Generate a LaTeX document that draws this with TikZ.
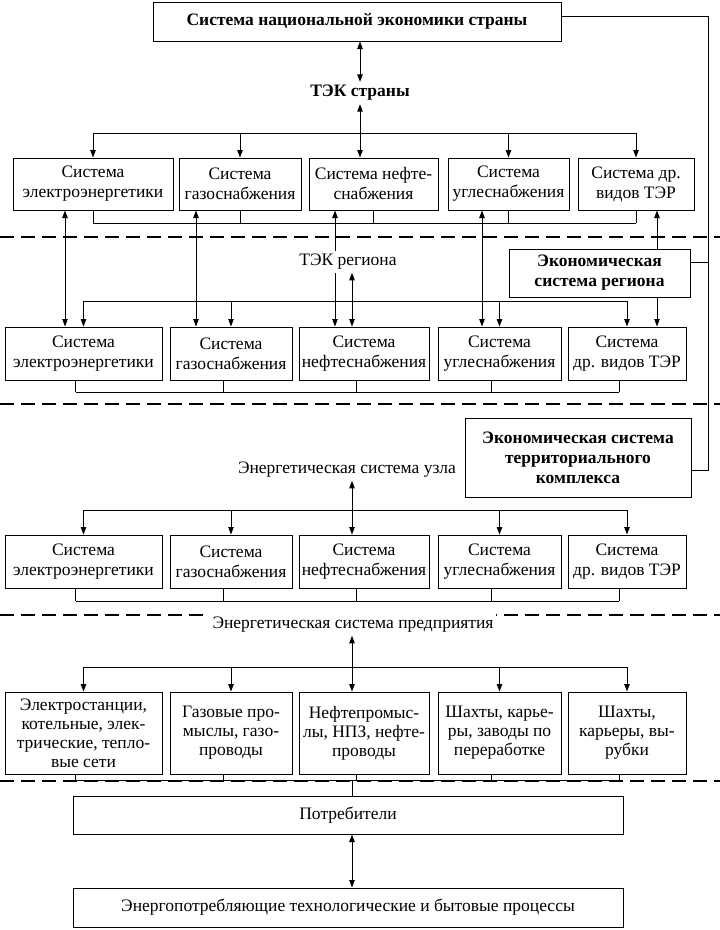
\documentclass[tikz,border=0pt]{standalone}
\usepackage{fontspec}
\setmainfont{Liberation Serif}
\usetikzlibrary{positioning,arrows.meta}

\tikzset{
  cell/.style={draw, line width=1pt, align=center, inner sep=1pt, font=\fontsize{17.5}{20}\selectfont},
  cellfour/.style={cell, font=\fontsize{17.5}{19}\selectfont},
  bold/.style={font=\fontsize{17.5}{20}\selectfont\bfseries},
  lbl/.style={fill=white, inner sep=3pt, font=\fontsize{17.5}{20}\selectfont},
  zone/.style={line width=2pt, dash pattern=on 14pt off 7pt},
  link/.style={line width=0.9pt},
  >={Triangle[length=7.5pt,width=5.5pt]}
}

\begin{document}
\begin{tikzpicture}[x=1pt,y=-1pt]
  \useasboundingbox (0,0) rectangle (720,930);

  % boxes
  \node[cell, bold, minimum width=408, minimum height=39] (nat) at (357,21.5) {Система национальной экономики страны};
  \node[bold] (tek1) at (360,93) {ТЭК страны};

  \foreach \n/\l/\r/\lab in {a/13/173/{Система\\электроэнергетики}, b/179/301/{Система\\газоснабжения},
      c/309/438/{Система нефте-\\снабжения}, d/448/569/{Система\\углеснабжения}, e/578/694/{Система др.\\видов ТЭР}}
    \node[cell, minimum width=\r-\l, minimum height=52] (r1\n) at ({(\l+\r)/2},184) {\lab};

  \foreach \row/\yc in {2/353.5, 3/561.5}
    \foreach \n/\l/\r/\lab in {a/5/162/{Система\\электроэнергетики}, b/170/292/{Система\\газоснабжения},
        c/299/429/{Система\\нефтеснабжения}, d/438/561/{Система\\углеснабжения}, e/568/686/{Система\\др. видов ТЭР}}
      \node[cell, minimum width=\r-\l, minimum height=53] (r\row\n) at ({(\l+\r)/2},\yc) {\lab};

  \foreach \n/\l/\r/\lab in {a/5/162/{Электростанции,\\котельные, элек-\\трические, тепло-\\вые сети},
      b/170/292/{Газовые про-\\мыслы, газо-\\проводы}, c/299/429/{Нефтепромыс-\\лы, НПЗ, нефте-\\проводы},
      d/438/561/{Шахты, карье-\\ры, заводы по\\переработке}, e/568/686/{Шахты,\\карьеры, вы-\\рубки}}
    \node[cellfour, minimum width=\r-\l, minimum height=82] (r4\n) at ({(\l+\r)/2},733) {\lab};

  \node[cell, bold, minimum width=181, minimum height=48] (eco2) at (599.5,273) {Экономическая\\система региона};
  \node[cell, bold, minimum width=226, minimum height=79] (eco3) at (578,457.5) {Экономическая система\\территориального\\комплекса};
  \node[cell, minimum width=550, minimum height=38] (cons) at (348,815) {Потребители};
  \node[cell, minimum width=550, minimum height=39] (proc) at (348,907.5) {Энергопотребляющие технологические и бытовые процессы};

  \coordinate (spine) at (352,0);
  \coordinate (rail) at (708,0);

  % zones
  \foreach \y in {237,404,615,781}
    \draw[zone] (0,\y) -- (720,\y);

  % country level
  \draw[link,<->] (nat.south -| tek1) -- (tek1.north);
  \draw[link,<->] (tek1.south) -- (tek1 |- r1c.north);
  \coordinate (bus1) at (0,133);
  \draw[link] (r1a |- bus1) -- (r1e |- bus1);
  \foreach \n in {a,b,d,e}
    \draw[link,->] (r1\n |- bus1) -- (r1\n.north);
  \coordinate (low1) at (0,223);
  \draw[link] (r1a |- low1) -- (r1e |- low1);
  \foreach \n in {a,...,e}
    \draw[link] (r1\n.south) -- (r1\n |- low1);

  % region level
  \foreach \n/\x in {a/65, b/196, c/335, d/482}
    \draw[link,<->] (\x,0 |- r1\n.south) -- (\x,0 |- r2\n.north);
  \node[lbl] (tek2) at (348,262) {ТЭК региона};
  \draw[link,->] (657,0 |- eco2.north) -- (657,0 |- r1e.south);
  \draw[link,->] (657,0 |- eco2.south) -- (657,0 |- r2e.north);
  \coordinate (bus2) at (0,301);
  \draw[link] (r2a |- bus2) -- (r2e |- bus2);
  \foreach \n in {a,b,d,e}
    \draw[link,->] (r2\n |- bus2) -- (r2\n.north);
  \draw[link,<->] (spine |- tek2.south) -- (spine |- r2c.north);
  \coordinate (low2) at (0,392);
  \draw[link] ([xshift=-8pt]r2a |- low2) -- ([xshift=-8pt]r2e |- low2);
  \foreach \n in {a,...,e}
    \draw[link] ([xshift=-8pt]r2\n.south) -- ([xshift=-8pt]r2\n |- low2);

  % economy links
  \draw[link] (nat.east |- 0,16) -- (rail |- 0,16) -- (rail |- 0,470) -- (eco3.east |- 0,470);
  \draw[link] (rail |- 0,262) -- (eco2.east |- 0,262);

  % node level
  \node[lbl] (uzel) at (347,470) {Энергетическая система узла};
  \coordinate (bus3) at (0,510);
  \draw[link] (r3a |- bus3) -- (r3e |- bus3);
  \foreach \n in {a,b,d,e}
    \draw[link,->] (r3\n |- bus3) -- (r3\n.north);
  \draw[link,<->] (spine |- uzel.south) -- (spine |- r3c.north);
  \coordinate (low3) at (0,601);
  \draw[link] ([xshift=-8pt]r3a |- low3) -- ([xshift=-8pt]r3e |- low3);
  \foreach \n in {a,...,e}
    \draw[link] ([xshift=-8pt]r3\n.south) -- ([xshift=-8pt]r3\n |- low3);

  % enterprise level
  \node[lbl] (pred) at (353,625) {Энергетическая система предприятия};
  \coordinate (bus4) at (0,667);
  \draw[link] (r4a |- bus4) -- (r4e |- bus4);
  \foreach \n in {a,b,d,e}
    \draw[link,->] (r4\n |- bus4) -- (r4\n.north);
  \draw[link,<->] (spine |- pred.south) -- (spine |- r4c.north);
  \coordinate (low4) at (0,780);
  \draw[link] ([xshift=-8pt]r4a |- low4) -- ([xshift=-8pt]r4e |- low4);
  \foreach \n in {a,...,e}
    \draw[link] ([xshift=-8pt]r4\n.south) -- ([xshift=-8pt]r4\n |- low4);
  \draw[link] (spine |- low4) -- (spine |- cons.north);

  % consumers
  \draw[link,<->] (spine |- cons.south) -- (spine |- proc.north);

\end{tikzpicture}
\end{document}
